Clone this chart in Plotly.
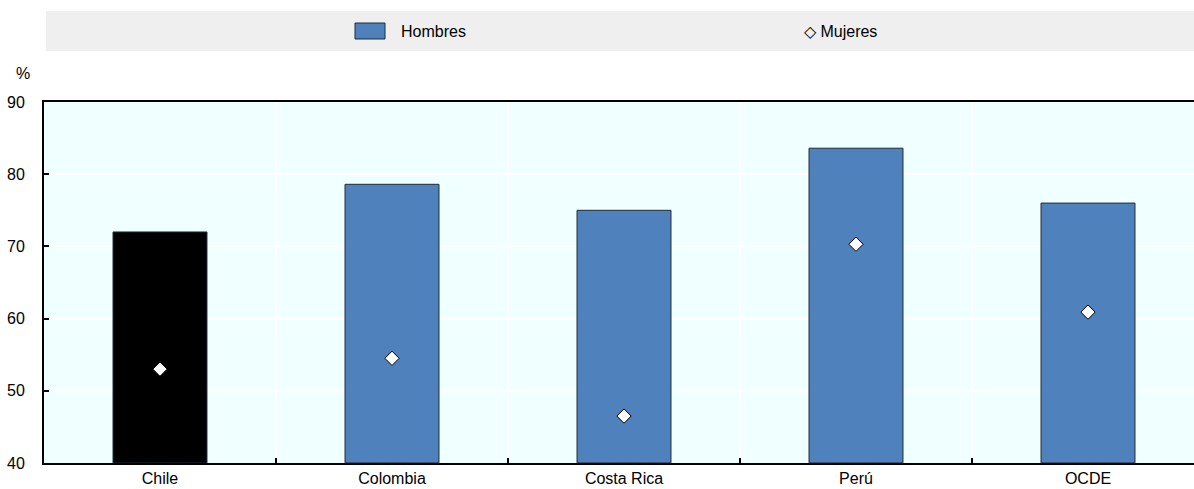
import plotly.graph_objects as go

countries = ["Chile", "Colombia", "Costa Rica", "Perú", "OCDE"]
hombres = [72.0, 78.6, 75.0, 83.6, 76.0]
mujeres = [53.0, 54.5, 46.5, 70.3, 60.9]
bar_colors = ["#000000", "#4F81BD", "#4F81BD", "#4F81BD", "#4F81BD"]
y_ticks = [40, 50, 60, 70, 80, 90]

FONT = "Liberation Sans, Arial, sans-serif"

W, H = 1194, 489
PL, PT, PB = 44, 102, 463   # plot box in figure pixels
PW, PH = W - PL, PB - PT


def px(xp):
    return (xp - PL) / PW


def py(yp):
    return (PB - yp) / PH


fig = go.Figure()
fig.add_trace(go.Bar(
    x=countries, y=[h - 40 for h in hombres], base=40,
    marker=dict(color=bar_colors, line=dict(color="#1F2A36", width=1)),
    width=0.405, name="Hombres", showlegend=False,
))
fig.add_trace(go.Scatter(
    x=countries, y=mujeres, mode="markers",
    marker=dict(symbol="diamond", size=11, color="white", line=dict(color="#000000", width=1)),
    name="Mujeres", showlegend=False,
))

fig.update_layout(
    width=W, height=H,
    margin=dict(l=PL, r=0, t=PT, b=H - PB, pad=0, autoexpand=False),
    paper_bgcolor="white", plot_bgcolor="#F0FFFF",
    font=dict(family=FONT, size=16, color="#000000"),
    showlegend=False,
    xaxis=dict(
        range=[-0.5, -0.5 + PW / 232], tickson="boundaries",
        ticks="inside", ticklen=5, tickcolor="#000000", tickwidth=1.5,
        showline=True, linecolor="#000000", linewidth=2, mirror=True,
        showgrid=True, gridcolor="white", gridwidth=1.5,
        tickfont=dict(size=16), ticklabelstandoff=0, automargin=False,
    ),
    yaxis=dict(
        range=[40, 90], tickvals=y_ticks, ticks="inside", ticklen=5,
        tickcolor="#000000", tickwidth=1.5,
        showline=True, linecolor="#000000", linewidth=2,
        showgrid=True, gridcolor="white", gridwidth=1.5, zeroline=False,
        ticklabelstandoff=14, tickfont=dict(size=16), automargin=False,
    ),
    shapes=[
        dict(type="rect", xref="paper", yref="paper",
             x0=px(46), x1=px(1194), y0=py(51), y1=py(11),
             fillcolor="#EFEFEF", line=dict(width=0), layer="below"),
        dict(type="rect", xref="paper", yref="paper",
             x0=px(355), x1=px(385), y0=py(39), y1=py(23),
             fillcolor="#4F81BD", line=dict(color="#1F2A36", width=1)),
    ],
    annotations=[
        dict(text="Hombres", xref="paper", yref="paper", x=px(399), y=py(31),
             xanchor="left", yanchor="middle", showarrow=False, font=dict(size=16)),
        dict(text="◇ Mujeres", xref="paper", yref="paper", x=px(802), y=py(31),
             xanchor="left", yanchor="middle", showarrow=False, font=dict(size=16)),
        dict(text="%", xref="paper", yref="paper", x=px(23), y=py(73),
             xanchor="center", yanchor="middle", showarrow=False, font=dict(size=16)),
    ],
)

fig.write_html(
    "out.html",
    config={"displayModeBar": False},
    post_script="document.body.style.margin='0';document.body.style.overflow='hidden';",
)
